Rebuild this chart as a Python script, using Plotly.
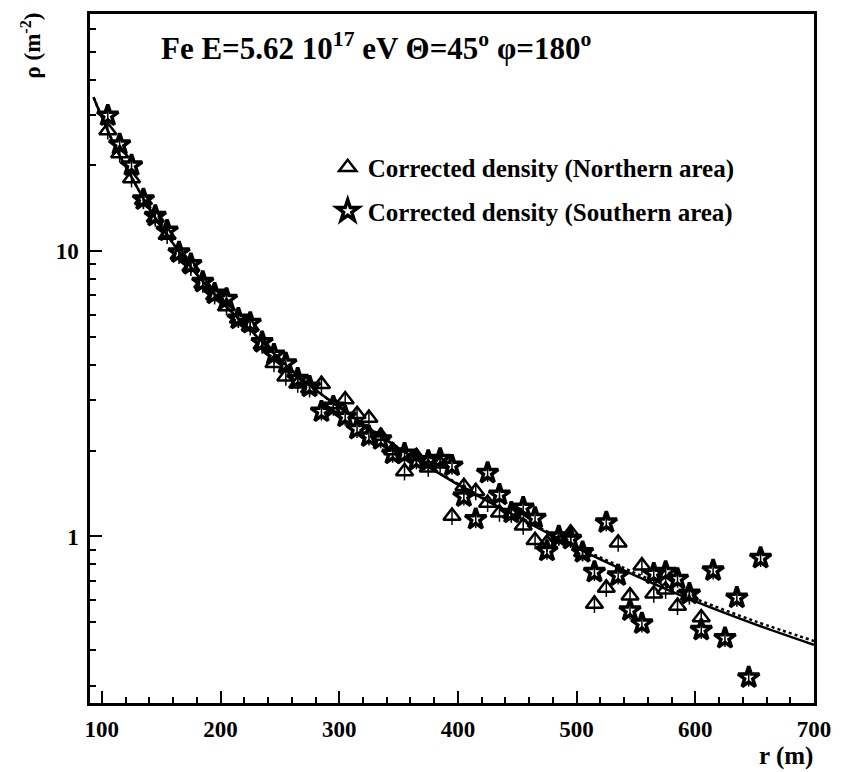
import plotly.graph_objects as go

# ---- data ----
r_bins_north = [105, 115, 125, 135, 145, 155, 165, 175, 185, 195, 205, 215, 225, 235, 245,
                255, 265, 275, 285, 295, 305, 315, 325, 335, 345, 355, 365, 375, 385, 395,
                405, 415, 425, 435, 445, 455, 465, 475, 485, 495, 505, 515, 525, 535, 545,
                555, 565, 575, 585, 595, 605]
rho_north = [26.5, 22.0, 18.0, 15.1, 13.1, 11.4, 9.7, 8.8, 7.7, 7.0, 6.4, 5.8, 5.45, 4.7, 4.05,
             3.63, 3.43, 3.3, 3.42, 2.9, 3.02, 2.68, 2.6, 2.25, 2.0, 1.69, 1.91, 1.74, 1.8, 1.18,
             1.5, 1.44, 1.31, 1.21, 1.2, 1.09, 0.97, 0.95, 1.0, 1.03, 0.88, 0.58, 0.66, 0.95, 0.62,
             0.79, 0.63, 0.65, 0.57, 0.62, 0.52]

r_bins_south = [105, 115, 125, 135, 145, 155, 165, 175, 185, 195, 205, 215, 225, 235, 245,
                255, 265, 275, 285, 295, 305, 315, 325, 335, 345, 355, 365, 375, 385, 395,
                405, 415, 425, 435, 445, 455, 465, 475, 485, 495, 505, 515, 525, 535, 545,
                555, 565, 575, 585, 595, 605, 615, 625, 635, 645, 655]
rho_south = [29.9, 23.7, 20.0, 15.2, 13.3, 11.8, 9.9, 9.0, 7.8, 7.1, 6.8, 5.8, 5.6, 4.8, 4.34,
             4.04, 3.57, 3.35, 2.74, 2.85, 2.63, 2.38, 2.24, 2.19, 1.95, 1.95, 1.85, 1.84, 1.87, 1.77,
             1.38, 1.15, 1.67, 1.40, 1.21, 1.26, 1.16, 0.89, 1.0, 0.98, 0.88, 0.75, 1.12, 0.73, 0.55,
             0.495, 0.74, 0.75, 0.71, 0.63, 0.47, 0.76, 0.44, 0.61, 0.32, 0.84]

r_fit = [93, 100, 112, 125, 137, 150, 175, 200, 225, 250, 275, 300, 350, 400, 450, 500, 550, 600, 650, 700]
rho_fit_solid = [34.7, 29.5, 22.9, 18.2, 14.8, 12.2, 8.8, 6.7, 5.3, 4.18, 3.39, 2.84, 2.04, 1.52, 1.17,
                 0.912, 0.728, 0.592, 0.493, 0.417]
rho_fit_dotted = [34.7, 29.5, 22.9, 18.2, 14.8, 12.2, 8.8, 6.7, 5.3, 4.18, 3.39, 2.84, 2.05, 1.53, 1.18,
                  0.925, 0.742, 0.605, 0.505, 0.43]

x_major = [100, 200, 300, 400, 500, 600, 700]
x_minor = [120, 140, 160, 180, 220, 240, 260, 280, 320, 340, 360, 380, 420, 440, 460, 480,
           520, 540, 560, 580, 620, 640, 660, 680]
y_major = [1, 10]
y_major_text = ["1", "10"]
y_minor = [0.3, 0.4, 0.5, 0.6, 0.7, 0.8, 0.9, 2, 3, 4, 5, 6, 7, 8, 9, 20, 30, 40, 50, 60]

title_text = "Fe E=5.62 10<sup>17</sup> eV Θ=45<sup>o</sup> φ=180<sup>o</sup>"
label_north = "Corrected density (Northern area)"
label_south = "Corrected density (Southern area)"

FONT = "Liberation Serif"

fig = go.Figure()

fig.add_trace(go.Scatter(x=r_fit, y=rho_fit_dotted, mode="lines",
                         line=dict(color="black", width=2.5, dash="dot", shape="spline"),
                         showlegend=False, hoverinfo="skip"))
fig.add_trace(go.Scatter(x=r_fit, y=rho_fit_solid, mode="lines",
                         line=dict(color="black", width=2.5, shape="spline"),
                         showlegend=False, hoverinfo="skip"))

fig.add_trace(go.Scatter(
    x=r_bins_north, y=rho_north, mode="markers", name="<b>" + label_north + "</b>", legend="legend",
    marker=dict(symbol="triangle-up-open", size=15, color="black", line=dict(width=2.5, color="black")),
    error_y=dict(type="percent", value=7, color="black", thickness=1.5, width=0),
))
fig.add_trace(go.Scatter(
    x=r_bins_south, y=rho_south, mode="markers", name="<b>" + label_south + "</b>", legend="legend2",
    marker=dict(symbol="star-open", size=16, color="black", line=dict(width=3.5, color="black")),
    error_y=dict(type="percent", value=7, color="black", thickness=1.5, width=0),
))

W, H = 842, 772
L, R, T, B = 90, 21, 11, 69
pw, ph = W - L - R, H - T - B


def px(xp):
    return (xp - L) / pw


def py(yp):
    return 1 - (yp - T) / ph


axis_common = dict(showline=True, mirror=True, linecolor="black", linewidth=2.5, showgrid=False,
                   zeroline=False, ticks="inside", ticklen=12, tickwidth=2, tickcolor="black",
                   tickfont=dict(family=FONT, size=23, color="black"))

fig.update_layout(
    width=W, height=H,
    margin=dict(l=L, r=R, t=T, b=B),
    paper_bgcolor="white", plot_bgcolor="white",
    font=dict(family=FONT, color="black"),
    xaxis=dict(range=[90, 700], tickmode="array", tickvals=x_major,
               ticktext=["<b>%d</b>" % v for v in x_major],
               minor=dict(tickmode="array", tickvals=x_minor, ticks="inside", ticklen=6, tickwidth=2,
                          tickcolor="black"),
               ticklabelstandoff=4,
               **axis_common),
    yaxis=dict(type="log", range=[-0.584, 1.832], tickmode="array", tickvals=y_major,
               ticktext=["<b>%s</b>" % t for t in y_major_text],
               minor=dict(tickmode="array", tickvals=y_minor, ticks="inside", ticklen=6, tickwidth=2,
                          tickcolor="black"),
               ticklabelstandoff=4, **axis_common),
    legend=dict(x=px(330), y=py(142), xanchor="left", yanchor="top", bgcolor="rgba(0,0,0,0)",
                font=dict(family=FONT, size=25, color="black")),
    legend2=dict(x=px(330), y=py(186), xanchor="left", yanchor="top", bgcolor="rgba(0,0,0,0)",
                 font=dict(family=FONT, size=25, color="black")),
    annotations=[
        dict(text="<b>" + title_text + "</b>", x=px(160), y=py(44), xref="paper", yref="paper",
             xanchor="left", yanchor="middle", showarrow=False,
             font=dict(family=FONT, size=31, color="black")),
        dict(text="<b>ρ (m<sup>-2</sup>)</b>", x=px(30), y=py(8), xref="paper", yref="paper",
             xanchor="center", yanchor="top", textangle=-90, showarrow=False,
             font=dict(family=FONT, size=23, color="black")),
        dict(text="<b>r (m)</b>", x=px(822), y=py(756), xref="paper", yref="paper",
             xanchor="right", yanchor="middle", showarrow=False,
             font=dict(family=FONT, size=25, color="black")),
    ],
)

fig.write_html("out.html")
